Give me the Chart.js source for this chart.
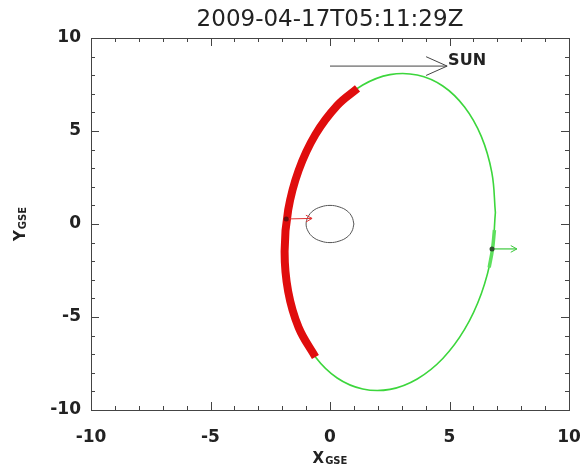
<!DOCTYPE html>
<html>
<head>
<meta charset="utf-8">
<script src="https://cdn.jsdelivr.net/npm/chart.js@4/dist/chart.umd.min.js"></script>
<style>
  body { margin: 0; background: #fff; }
  canvas { display: block; }
</style>
</head>
<body>
<canvas id="orbit" width="582" height="472"></canvas>
<script>
const titleText = "2009-04-17T05:11:29Z";
const tickValues = [-10, -5, 0, 5, 10];

// full orbit (GSE, Earth radii), going round from the dayside point
const orbitX = [6.92, 6.77, 6.33, 5.63, 4.72, 3.65, 2.51, 1.37, 0.30, -0.61, -1.31, -1.75, -1.90, -1.75, -1.31, -0.61, 0.30, 1.37, 2.51, 3.65, 4.72, 5.63, 6.33, 6.77, 6.92];
const orbitY = [0.62, -1.61, -3.75, -5.67, -7.23, -8.33, -8.89, -8.87, -8.28, -7.15, -5.57, -3.63, -1.48, 0.75, 2.89, 4.81, 6.37, 7.47, 8.03, 8.01, 7.42, 6.29, 4.71, 2.77, 0.62];

// highlighted (red) part of the orbit
const redX = [-0.61, -1.31, -1.75, -1.90, -1.75, -1.31, -0.61, 0.30, 1.15];
const redY = [-7.15, -5.57, -3.63, -1.48, 0.75, 2.89, 4.81, 6.37, 7.29];

// short thick green piece round the spacecraft
const thickX = [6.88, 6.80, 6.66];
const thickY = [-0.32, -1.34, -2.34];

// Earth
const earthX = [1, 0.92, 0.71, 0.38, 0, -0.38, -0.71, -0.92, -1, -0.92, -0.71, -0.38, 0, 0.38, 0.71, 0.92, 1];
const earthY = [0, 0.38, 0.71, 0.92, 1, 0.92, 0.71, 0.38, 0, -0.38, -0.71, -0.92, -1, -0.92, -0.71, -0.38, 0];

// arrows
const sunArrowX = [0.0, 4.9];
const sunArrowY = [8.49, 8.49];
const redArrowX = [-1.83, -0.75];
const redArrowY = [0.27, 0.30];
const greenArrowX = [6.78, 7.82];
const greenArrowY = [-1.34, -1.34];

const sunLabel = "SUN";
const xTitle = ["X", "GSE"];
const yTitle = ["Y", "GSE"];

const toPts = (xs, ys) => xs.map((x, i) => ({ x: x, y: ys[i] }));

const lineSet = (xs, ys, color, width, tension) => ({
  data: toPts(xs, ys),
  showLine: true,
  borderColor: color,
  borderWidth: width,
  pointRadius: 0,
  tension: tension,
  fill: false,
  borderCapStyle: "butt",
  borderJoinStyle: "round",
});

const frame = {
  id: "frame",
  afterDatasetsDraw(chart) {
    const { ctx, chartArea: a, scales } = chart;
    const sx = scales.x;
    const sy = scales.y;
    ctx.save();
    ctx.strokeStyle = "#444";
    ctx.lineWidth = 1;
    ctx.strokeRect(a.left + 0.5, a.top + 0.5, a.right - a.left, a.bottom - a.top);

    // inward ticks on all four sides
    ctx.beginPath();
    for (let v = -10; v <= 10; v++) {
      const len = v % 5 === 0 ? 8 : 4;
      const px = Math.round(sx.getPixelForValue(v)) + 0.5;
      const py = Math.round(sy.getPixelForValue(v)) + 0.5;
      ctx.moveTo(px, a.bottom); ctx.lineTo(px, a.bottom - len);
      ctx.moveTo(px, a.top); ctx.lineTo(px, a.top + len);
      ctx.moveTo(a.left, py); ctx.lineTo(a.left + len, py);
      ctx.moveTo(a.right, py); ctx.lineTo(a.right - len, py);
    }
    ctx.stroke();

    // arrow heads
    const head = (xs, ys, color, len, spread) => {
      const x0 = sx.getPixelForValue(xs[0]);
      const y0 = sy.getPixelForValue(ys[0]);
      const x1 = sx.getPixelForValue(xs[1]);
      const y1 = sy.getPixelForValue(ys[1]);
      const ang = Math.atan2(y1 - y0, x1 - x0);
      ctx.strokeStyle = color;
      ctx.lineWidth = 1;
      ctx.beginPath();
      ctx.moveTo(x1 - len * Math.cos(ang - spread), y1 - len * Math.sin(ang - spread));
      ctx.lineTo(x1, y1);
      ctx.lineTo(x1 - len * Math.cos(ang + spread), y1 - len * Math.sin(ang + spread));
      ctx.stroke();
    };
    head(sunArrowX, sunArrowY, "#444", 23, 0.42);
    head(redArrowX, redArrowY, "#e03030", 7, 0.5);
    head(greenArrowX, greenArrowY, "#3cc83c", 7, 0.5);

    // SUN label
    ctx.fillStyle = "#222";
    ctx.font = "bold 16px 'DejaVu Sans'";
    ctx.textBaseline = "middle";
    ctx.textAlign = "left";
    ctx.fillText(sunLabel, sx.getPixelForValue(sunArrowX[1]) + 1, sy.getPixelForValue(sunArrowY[1]) - 5);

    // title, centred over the plot
    ctx.font = "23px 'DejaVu Sans'";
    ctx.textAlign = "center";
    ctx.fillText(titleText, (a.left + a.right) / 2, 20);

    // axis titles with subscripts
    const subTitle = (parts) => {
      ctx.font = "bold 15px 'DejaVu Sans'";
      const w0 = ctx.measureText(parts[0]).width;
      ctx.font = "bold 10px 'DejaVu Sans'";
      const w1 = ctx.measureText(parts[1]).width;
      const start = -(w0 + w1 + 1) / 2;
      ctx.textAlign = "left";
      ctx.textBaseline = "alphabetic";
      ctx.font = "bold 15px 'DejaVu Sans'";
      ctx.fillText(parts[0], start, 0);
      ctx.font = "bold 10px 'DejaVu Sans'";
      ctx.fillText(parts[1], start + w0 + 1, 1);
    };
    ctx.save();
    ctx.translate((a.left + a.right) / 2, 463);
    subTitle(xTitle);
    ctx.restore();
    ctx.save();
    ctx.translate(25, (a.top + a.bottom) / 2);
    ctx.rotate(-Math.PI / 2);
    subTitle(yTitle);
    ctx.restore();

    ctx.restore();
  },
};

const tickFont = { family: "'DejaVu Sans'", size: 17, weight: "bold" };

// datasets listed top-most first (Chart.js paints them in reverse)
new Chart(document.getElementById("orbit"), {
  type: "scatter",
  data: {
    datasets: [
      {
        data: [{ x: redArrowX[0], y: redArrowY[0] }, { x: greenArrowX[0], y: greenArrowY[0] }],
        pointRadius: 2.5,
        pointBackgroundColor: ["#6a1010", "#2f4f2f"],
        pointBorderWidth: 0,
        showLine: false,
      },
      lineSet(sunArrowX, sunArrowY, "#444", 1, 0),
      lineSet(redArrowX, redArrowY, "#e03030", 1, 0),
      lineSet(greenArrowX, greenArrowY, "#3cc83c", 1.2, 0),
      lineSet(earthX, earthY, "#555", 1, 0.4),
      lineSet(redX, redY, "#e00d0d", 8, 0.4),
      lineSet(thickX, thickY, "#5ee05e", 3.5, 0.4),
      lineSet(orbitX, orbitY, "#3cd63c", 1.6, 0.4),
    ],
  },
  options: {
    responsive: false,
    animation: false,
    layout: { padding: { left: 0, right: 13, top: 38, bottom: 0 } },
    plugins: {
      legend: { display: false },
      tooltip: { enabled: false },
      title: { display: false },
    },
    scales: {
      x: {
        type: "linear",
        min: -10,
        max: 10,
        afterBuildTicks: (s) => { s.ticks = tickValues.map((v) => ({ value: v })); },
        afterFit: (s) => { s.height = 62; s.paddingLeft = 0; s.paddingRight = 0; },
        ticks: { color: "#222", font: tickFont, padding: 17, maxRotation: 0 },
        grid: { display: false, drawTicks: false },
        border: { display: false },
      },
      y: {
        type: "linear",
        min: -10,
        max: 10,
        afterBuildTicks: (s) => { s.ticks = tickValues.map((v) => ({ value: v })); },
        afterFit: (s) => { s.width = 91; s.paddingTop = 0; s.paddingBottom = 0; },
        ticks: { color: "#222", font: tickFont, padding: 10 },
        grid: { display: false, drawTicks: false },
        border: { display: false },
      },
    },
  },
  plugins: [frame],
});
</script>
</body>
</html>
